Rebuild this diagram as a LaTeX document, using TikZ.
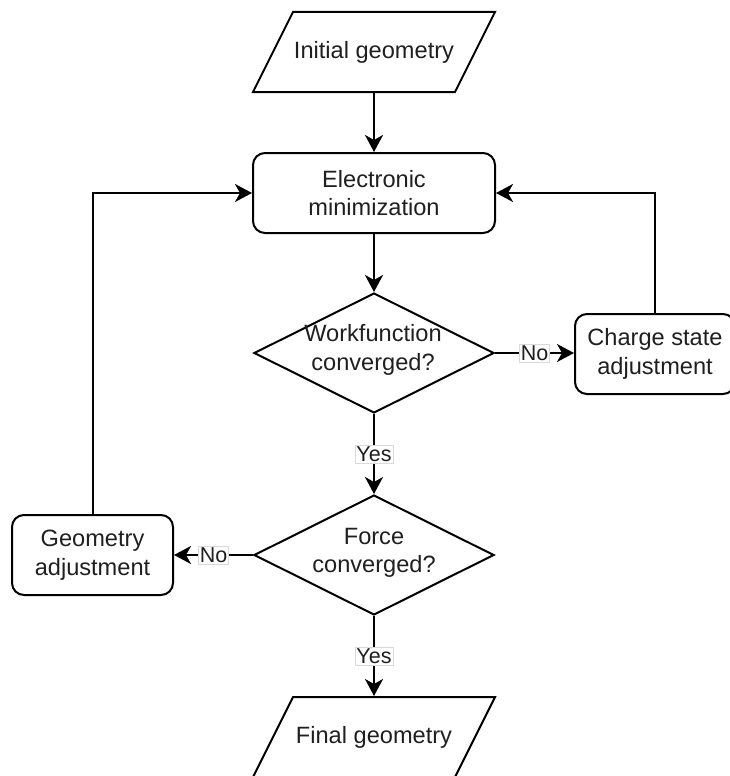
\documentclass[tikz,border=0pt]{standalone}
\usepackage{fontspec}
\setmainfont{Liberation Sans}
\usetikzlibrary{arrows.meta,shapes.geometric,calc}
\definecolor{txt}{HTML}{1F1F1F}
\begin{document}
\begin{tikzpicture}[x=1pt,y=-1pt,
  line width=2pt,
  every node/.style={text=txt},
  box/.style={draw, rounded corners=12pt, minimum height=80pt, align=center, inner sep=0pt,
    font=\fontsize{23.6}{28.5}\selectfont},
  ghost/.style={minimum height=80pt, minimum width=162pt, inner sep=0pt, align=center,
    font=\fontsize{23.6}{28.5}\selectfont},
  diam/.style={draw, diamond, minimum width=240pt, minimum height=120pt, inner sep=0pt},
  dtxt/.style={align=center, inner sep=0pt, font=\fontsize{23.6}{28.5}\selectfont},
  arr/.style={-{Stealth[length=17pt,width=18pt,inset=5pt]}},
  lbl/.style={fill=white, draw=black!15, line width=0.6pt, inner sep=1.5pt,
    font=\fontsize{21.5}{24}\selectfont},
  line join=miter]
\useasboundingbox (0,0) rectangle (730,776);

% nodes
\node[ghost] (init) at (374,52) {Initial geometry};
\draw ([shift={(-121,40)}]init.center) -- ++(202,0) -- ++(40,-80) -- ++(-202,0) -- cycle;

\node[box, minimum width=242pt] (elec) at (374,193) {Electronic\\minimization};

\node[diam] (wf) at (374,353) {};
\node[dtxt] (wft) at (373,350) {Workfunction\\converged?};

\node[box, minimum width=160pt] (charge) at (655,354) {Charge state\\adjustment};

\node[diam] (force) at (374,555) {};
\node[dtxt] (forcet) at (374,553) {Force\\converged?};

\node[box, minimum width=161pt] (geom) at (92.5,555) {Geometry\\adjustment};

\node[ghost] (final) at (374,737) {Final geometry};
\draw ([shift={(-121,40)}]final.center) -- ++(202,0) -- ++(40,-80) -- ++(-202,0) -- cycle;

% connectors
\draw[arr] (init) -- (elec);
\draw[arr] (elec) -- (wf);
\draw[arr] (wf) -- node[lbl] (y1) {Yes} (force);
\draw[arr] (force) -- node[lbl] (y2) {Yes} (final);
\draw[arr] (wf.east) -- node[lbl] (n1) {No} (charge.west |- wf.east);
\draw[arr] (force.west) -- node[lbl] (n2) {No} (geom.east |- force.west);
\draw[arr] (charge.north) |- (elec.east);
\draw[arr] (geom.north) |- (elec.west);
\end{tikzpicture}
\end{document}
